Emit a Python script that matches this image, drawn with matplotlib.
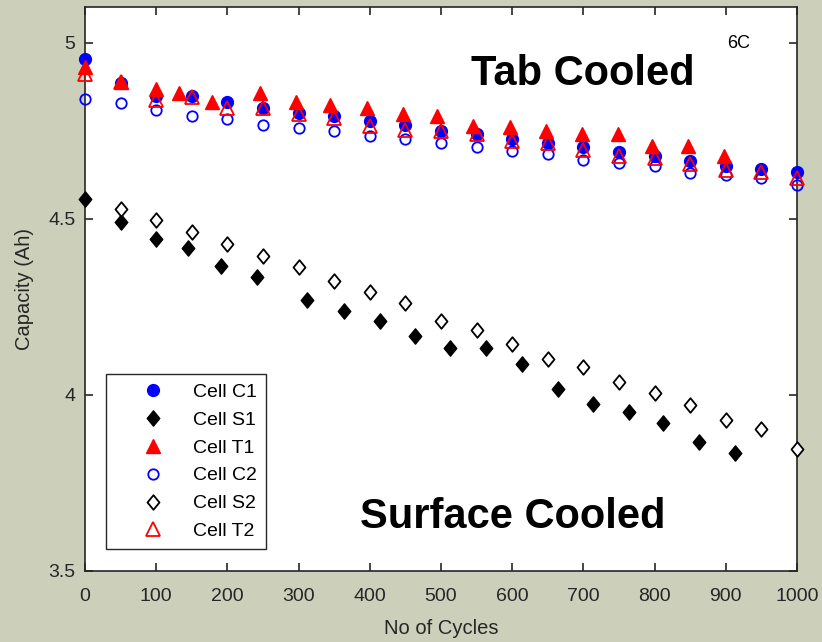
import matplotlib
matplotlib.use("Agg")
import matplotlib.pyplot as plt
from matplotlib.path import Path

# ---- data: capacity (Ah) vs cycle number ----
c1_cycles = [0, 50, 100, 150, 200, 250, 300, 350, 400, 450, 500, 550, 600, 650,
             700, 750, 800, 850, 900, 950, 1000]
c1_cap = [4.952, 4.886, 4.848, 4.848, 4.831, 4.813, 4.800, 4.791, 4.777, 4.767,
          4.750, 4.739, 4.725, 4.715, 4.703, 4.690, 4.677, 4.665, 4.649, 4.642, 4.632]

s1_cycles = [0, 50, 100, 145, 191, 241, 312, 364, 414, 463, 513, 563, 614, 664,
             714, 764, 812, 863, 913]
s1_cap = [4.557, 4.492, 4.443, 4.417, 4.367, 4.334, 4.268, 4.237, 4.209, 4.166,
          4.133, 4.133, 4.088, 4.018, 3.975, 3.952, 3.919, 3.867, 3.835]

t1_cycles = [0, 50, 100, 132, 178, 246, 296, 344, 396, 447, 495, 545, 597, 647,
             698, 748, 797, 847, 898]
t1_cap = [4.931, 4.888, 4.868, 4.856, 4.832, 4.857, 4.832, 4.824, 4.813, 4.796,
          4.791, 4.763, 4.761, 4.748, 4.739, 4.739, 4.706, 4.706, 4.677]

c2_cycles = [0, 50, 100, 150, 200, 250, 300, 350, 400, 450, 500, 550, 600, 650,
             700, 750, 800, 850, 900, 950, 1000]
c2_cap = [4.841, 4.829, 4.808, 4.791, 4.784, 4.767, 4.758, 4.748, 4.734, 4.726,
          4.714, 4.703, 4.691, 4.683, 4.668, 4.658, 4.649, 4.630, 4.623, 4.616, 4.597]

s2_cycles = [50, 100, 150, 200, 250, 300, 350, 400, 450, 500, 550, 600, 650, 700,
             750, 800, 850, 900, 950, 1000]
s2_cap = [4.528, 4.495, 4.461, 4.427, 4.395, 4.363, 4.324, 4.292, 4.260, 4.210,
          4.185, 4.143, 4.102, 4.078, 4.036, 4.004, 3.971, 3.930, 3.902, 3.845]

t2_cycles = [0, 50, 100, 150, 200, 250, 300, 350, 400, 450, 500, 550, 600, 650,
             700, 750, 800, 850, 900, 950, 1000]
t2_cap = [4.912, 4.887, 4.838, 4.846, 4.813, 4.813, 4.796, 4.786, 4.764, 4.753,
          4.748, 4.739, 4.720, 4.715, 4.696, 4.679, 4.673, 4.654, 4.638, 4.632, 4.615]

x_ticks = [0, 100, 200, 300, 400, 500, 600, 700, 800, 900, 1000]
y_ticks = [3.5, 4, 4.5, 5]
y_tick_labels = ["3.5", "4", "4.5", "5"]

# ---- style ----
plt.rcParams["font.family"] = ["Liberation Sans", "DejaVu Sans"]

bg = "#ccd0bb"
ink = "#262626"

# MATLAB-like diamond (slightly narrower than a square rotated 45 deg)
diamond = Path([(0, 1), (0.82, 0), (0, -1), (-0.82, 0), (0, 1)],
               [Path.MOVETO, Path.LINETO, Path.LINETO, Path.LINETO, Path.CLOSEPOLY])

fig = plt.figure(figsize=(8.22, 6.42), dpi=100, facecolor=bg)
ax = fig.add_axes([0.1034, 0.1106, 0.8662, 0.878])
ax.set_facecolor("white")

common = dict(linestyle="none", clip_on=False, zorder=3)
ax.plot(c1_cycles, c1_cap, marker="o", ms=8.5,
        mfc="#0000ff", mec="#0000ff", mew=1, label="Cell C1", **common)
ax.plot(s1_cycles, s1_cap, marker=diamond, ms=11,
        mfc="black", mec="black", mew=1, label="Cell S1", **common)
ax.plot(t1_cycles, t1_cap, marker="^", ms=10,
        mfc="#ff0000", mec="#ff0000", mew=1, label="Cell T1", **common)
ax.plot(c2_cycles, c2_cap, marker="o", ms=7.5,
        mfc="none", mec="#0000ff", mew=1.3, label="Cell C2", **common)
ax.plot(s2_cycles, s2_cap, marker=diamond, ms=10.5,
        mfc="white", mec="black", mew=1.3, label="Cell S2", **common)
ax.plot(t2_cycles, t2_cap, marker="^", ms=9.5,
        mfc="none", mec="#ff0000", mew=1.3, label="Cell T2", **common)

ax.set_xlim(0, 1000)
ax.set_ylim(3.5, 5.1)
ax.set_xticks(x_ticks)
ax.set_yticks(y_ticks)
ax.set_yticklabels(y_tick_labels)

for side in ax.spines.values():
    side.set_linewidth(1.2)
    side.set_color(ink)
    side.set_zorder(2.5)
ax.tick_params(direction="in", length=6, width=1.2, color=ink,
               labelsize=14, labelcolor=ink, top=True, right=True)
ax.tick_params(axis="x", pad=12)
ax.tick_params(axis="y", pad=7)

ax.set_xlabel("No of Cycles", fontsize=14.5, color=ink, labelpad=10)
ax.set_ylabel("Capacity (Ah)", fontsize=14.5, color=ink, labelpad=10)

ax.text(918, 4.996, "6C", fontsize=13, color="black", ha="center", va="center")
ax.text(699, 4.911, "Tab Cooled", fontsize=30, fontweight="bold",
        ha="center", va="center")
ax.text(601, 3.652, "Surface Cooled", fontsize=30, fontweight="bold",
        ha="center", va="center")

leg = ax.legend(loc="lower left", bbox_to_anchor=(0.0295, 0.039), fontsize=14,
                frameon=True, fancybox=False, framealpha=1, edgecolor=ink,
                handlelength=3.9, handletextpad=0.15, labelspacing=0.53,
                borderpad=0.45, borderaxespad=0, numpoints=1)
leg.get_frame().set_linewidth(1.0)
leg.set_zorder(5)

fig.savefig("out.png", dpi=100, facecolor=bg)
